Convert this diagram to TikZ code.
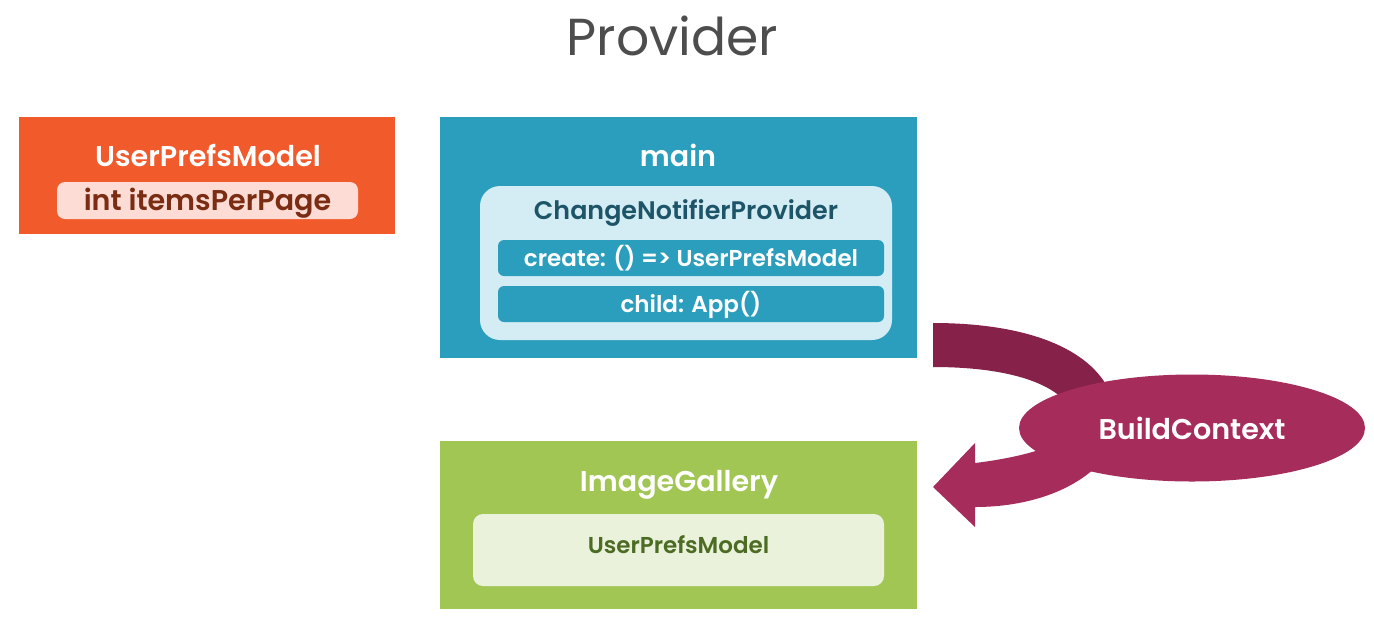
\documentclass[tikz,border=0pt]{standalone}
\usepackage{fontspec}
\setmainfont{Poppins}[BoldFont={Poppins SemiBold}]
\usetikzlibrary{shapes.geometric}

\definecolor{prefsorange}{HTML}{F15A2B}
\definecolor{pillpink}{HTML}{FCDCD4}
\definecolor{pilltext}{HTML}{7B2D14}
\definecolor{mainblue}{HTML}{2B9EBD}
\definecolor{mainlight}{HTML}{D4EDF5}
\definecolor{maintext}{HTML}{1D5468}
\definecolor{galgreen}{HTML}{A1C654}
\definecolor{gallight}{HTML}{EAF2DC}
\definecolor{galtext}{HTML}{4C6B23}
\definecolor{flowdark}{HTML}{86214A}
\definecolor{flow}{HTML}{A62C5B}
\definecolor{titlegray}{HTML}{4D4D4D}

\begin{document}
\begin{tikzpicture}[x=0.5pt,y=-0.5pt,
		panel/.style={fill=#1,inner sep=0pt},
		label/.style={font=\bfseries\fontsize{14.3}{16}\selectfont,anchor=base},
		rowlabel/.style={font=\bfseries\fontsize{11.5}{13}\selectfont,anchor=base,text=white}]
		\fill[white] (0,0) rectangle (1374,622);

		\node[font=\fontsize{26}{30}\selectfont,text=titlegray,anchor=base] (heading) at (672.5,55) {Provider};

		% model
		\node[panel=prefsorange,minimum width=188pt,minimum height=58.5pt] (prefs) at (207,175.5) {};
		\node[panel=pillpink,rounded corners=4pt,minimum width=150.5pt,minimum height=18.5pt] (pill) at (207.5,200.5) {};
		\node[label,text=white] (prefsname) at (208,166) {UserPrefsModel};
		\node[label,text=pilltext] (itemsfield) at (207.5,210) {int itemsPerPage};

		% main
		\node[panel=mainblue,minimum width=238.5pt,minimum height=120.5pt] (main) at (678.5,237.5) {};
		\node[panel=mainlight,rounded corners=10pt,minimum width=206pt,minimum height=77pt] (notifier) at (686,263) {};
		\foreach \name / \y in {createrow/258,childrow/304} { \node[panel=mainblue,rounded corners=3pt,minimum width=193pt,minimum height=18pt] (\name) at (691,\y) {};}
		\node[label,text=white] (mainname) at (678,166) {main};
		\node[label,text=maintext,font=\bfseries\fontsize{12.7}{14}\selectfont] (notifiername) at (686,219) {ChangeNotifierProvider};
		\node[rowlabel] (createtext) at (691,266) {create: () => UserPrefsModel};
		\node[rowlabel] (childtext) at (691,312) {child: App()};

		% gallery
		\node[panel=galgreen,minimum width=238.5pt,minimum height=84pt] (gallery) at (678.5,525) {};
		\node[panel=gallight,rounded corners=5pt,minimum width=205.5pt,minimum height=36pt] (consumer) at (678.5,550) {};
		\node[label,text=white] (galleryname) at (679,491) {ImageGallery};
		\node[label,text=galtext,font=\bfseries\fontsize{11.5}{13}\selectfont] (consumername) at (678.5,553) {UserPrefsModel};

		% context arrow
		\fill[flowdark] (933,323) .. controls (1020,323) and (1085,345) .. (1108,388) -- (1062,398) .. controls (1040,378) and (995,367) .. (933,367) -- cycle;
		\fill[flow] (975,463) .. controls (1000,460) and (1025,455) .. (1045,448) -- (1095,468) .. controls (1065,495) and (1020,507) .. (975,507) -- (975,527) -- (933,487) -- (975,443) -- cycle;
		\node[ellipse,panel=flow,minimum width=173pt,minimum height=53.5pt,text=white,font=\bfseries\fontsize{14.3}{16}\selectfont] (ctx) at (1192,428) {BuildContext};
	\end{tikzpicture}
\end{document}
